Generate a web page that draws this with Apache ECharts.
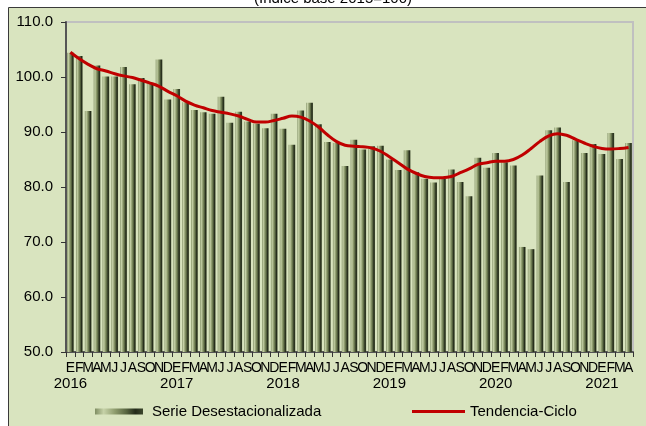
<!DOCTYPE html>
<html>
<head>
<meta charset="utf-8">
<script src="https://cdn.jsdelivr.net/npm/echarts@6/dist/echarts.min.js"></script>
<style>
html,body{margin:0;padding:0;background:#fff;}
#chart{width:646px;height:426px;}
</style>
</head>
<body>
<div id="chart"></div>
<script>
const titleText = '(Índice base 2015=100)';
const monthLetters = ['E','F','M','A','M','J','J','A','S','O','N','D'];
const years = ['2016','2017','2018','2019','2020','2021'];
const monthsPerYear = [12,12,12,12,12,4];
const yTicks = [50, 60, 70, 80, 90, 100, 110];

const serieDesest = [
  104.4,103.8,93.8,102.1,100.1,100.1,101.8,98.7,99.8,98.8,103.2,95.9,
  97.8,95.4,94.0,93.6,93.3,96.4,91.7,93.7,91.9,91.5,90.7,93.3,
  90.6,87.7,93.9,95.3,91.4,88.2,88.0,83.8,88.6,86.8,87.4,87.5,
  85.0,83.1,86.7,82.7,81.5,80.8,81.5,83.2,80.9,78.3,85.3,83.5,
  86.2,84.5,83.9,69.1,68.7,82.1,90.3,90.8,80.9,88.5,86.2,87.8,
  86.0,89.8,85.1,88.0
];
const tendencia = [
  104.5,103.3,102.3,101.5,101.1,100.6,100.2,99.9,99.4,98.9,98.3,97.4,
  96.6,95.6,94.9,94.4,93.9,93.6,93.3,92.9,92.3,91.8,91.8,92.1,
  92.5,92.9,92.7,92.0,90.9,89.5,88.3,87.6,87.4,87.3,87.1,86.5,
  85.5,84.4,83.3,82.5,81.9,81.7,81.7,81.9,82.6,83.3,84.1,84.4,
  84.7,84.7,85.0,85.8,87.0,88.3,89.3,89.7,89.4,88.7,88.0,87.4,
  87.0,86.9,87.0,87.2
];

const categories = [];
years.forEach((y, yi) => {
  for (let m = 0; m < monthsPerYear[yi]; m++) categories.push(y + '-' + monthLetters[m]);
});

const FONT = '"Liberation Sans", Arial, sans-serif';
const chart = echarts.init(document.getElementById('chart'), null, {renderer: 'canvas'});

const barGradient = new echarts.graphic.LinearGradient(0, 0, 1, 0, [
  {offset: 0, color: '#7f8d62'},
  {offset: 0.18, color: '#c6d2a8'},
  {offset: 0.42, color: '#8d9b6c'},
  {offset: 0.66, color: '#56633f'},
  {offset: 0.84, color: '#242b1a'},
  {offset: 1, color: '#3c472c'}
]);

chart.setOption({
  animation: false,
  backgroundColor: '#ffffff',
  graphic: [
    {type: 'rect', z: -10, zlevel: 0, shape: {x: 8.5, y: 7.5, width: 700, height: 500},
     style: {fill: '#d9e4bf', stroke: '#3a3a3a', lineWidth: 1}},
    {type: 'text', z: 10, x: 333, y: 6,
     style: {text: titleText, font: '15px ' + FONT, fill: '#000', textAlign: 'center', textVerticalAlign: 'bottom'}}
  ],
  grid: {left: 66, right: 13, top: 22, bottom: 74, show: true, borderColor: '#c0c0c0', borderWidth: 2, backgroundColor: 'transparent'},
  legend: [
    {data: ['Serie Desestacionalizada'], left: 90, top: 399, icon: 'rect', itemWidth: 48, itemHeight: 6,
     textStyle: {fontSize: 15, fontFamily: FONT, color: '#000', padding: [0, 0, 0, 4]}},
    {data: ['Tendencia-Ciclo'], left: 407, top: 399, icon: 'rect', itemWidth: 53, itemHeight: 3,
     textStyle: {fontSize: 15, fontFamily: FONT, color: '#000', padding: [0, 0, 0, 0]}}
  ],
  xAxis: {
    type: 'category',
    data: categories,
    boundaryGap: true,
    axisLine: {lineStyle: {color: '#555555', width: 2}},
    axisTick: {show: true, length: 5, interval: 0, lineStyle: {color: '#333', width: 1}},
    axisLabel: {
      interval: 0,
      margin: 8,
      hideOverlap: false,
      formatter: function (value) {
        const parts = value.split('-');
        if (parts[1] === 'E') return '{m|E}\n{y|' + parts[0] + '}';
        return '{m|' + parts[1] + '}';
      },
      rich: {
        m: {fontSize: 14, fontFamily: FONT, color: '#000', lineHeight: 16},
        y: {fontSize: 15, fontFamily: FONT, color: '#000', lineHeight: 16}
      }
    },
    splitLine: {show: false}
  },
  yAxis: {
    type: 'value',
    min: yTicks[0],
    max: yTicks[yTicks.length - 1],
    interval: 10,
    axisLine: {show: true, lineStyle: {color: '#555555', width: 2}},
    axisTick: {show: true, inside: false, length: 5, lineStyle: {color: '#333', width: 1}},
    axisLabel: {margin: 13, fontSize: 15, fontFamily: FONT, color: '#000', formatter: v => v.toFixed(1)},
    splitLine: {show: false}
  },
  series: [
    {
      name: 'Serie Desestacionalizada',
      type: 'bar',
      data: serieDesest,
      barCategoryGap: '25%',
      itemStyle: {color: barGradient},
      z: 2
    },
    {
      name: 'Tendencia-Ciclo',
      type: 'line',
      data: tendencia,
      smooth: 0.4,
      symbol: 'none',
      lineStyle: {color: '#c00000', width: 3},
      itemStyle: {color: '#c00000'},
      z: 3
    }
  ]
});
</script>
</body>
</html>
